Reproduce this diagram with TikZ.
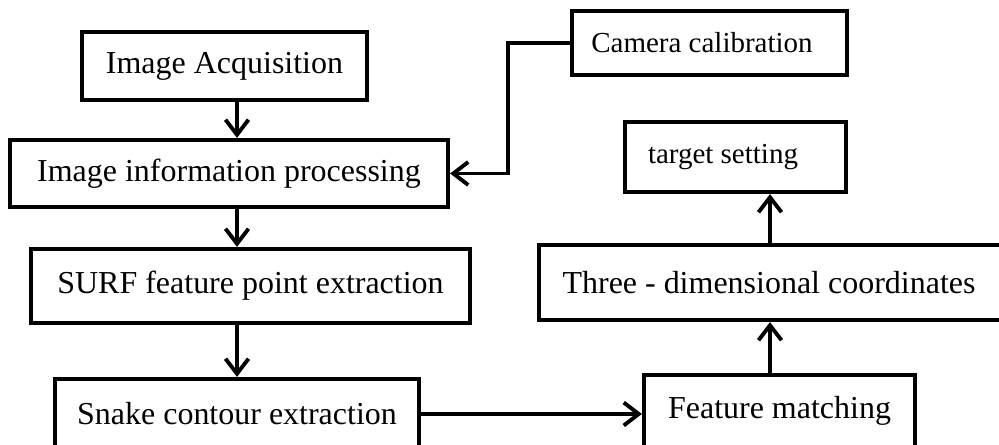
\documentclass[tikz,border=0pt]{standalone}
\usepackage{fontspec}
\setmainfont{Liberation Serif}
\usetikzlibrary{arrows.meta}

\begin{document}
\begin{tikzpicture}[x=0.02cm, y=-0.02cm,
		box/.style={draw, line width=2.4pt, inner sep=0pt, font=\fontsize{18.2}{21}\selectfont},
		small/.style={font=\fontsize{16.5}{19}\selectfont},
		flow/.style={line width=2.2pt, -{Straight Barb[length=0.3cm, width=0.46cm, line width=2.2pt]}}]
		
		\useasboundingbox (0,0) rectangle (999,445);
		\clip (0,0) rectangle (999,445);
		
		\node[box, minimum width=5.7cm, minimum height=1.36cm] (acq) at (224.5,66) {Image Acquisition};
		\node[box, minimum width=8.76cm, minimum height=1.34cm] (proc) at (229,173.5) {Image information processing};
		\node[box, minimum width=8.78cm, minimum height=1.48cm] (surf) at (250.5,286) {SURF feature point extraction};
		\node[box, minimum width=7.28cm, minimum height=1.4cm] (snake) at (237,414) {Snake contour extraction};
		\node[box, small, minimum width=5.5cm, minimum height=1.28cm] (cam) at (709.5,43) {\hspace*{-0.3cm}Camera calibration};
		\node[box, small, minimum width=4.42cm, minimum height=1.4cm] (target) at (735.5,157) {\hspace*{-0.5cm}target setting};
		\node[box, minimum width=12cm, minimum height=1.5cm] (three) at (839,282.5) {\hspace*{-2.8cm}Three - dimensional coordinates};
		\node[box, minimum width=5.42cm, minimum height=1.44cm] (feat) at (779.5,411) {Feature matching};
		\coordinate (bend) at (508,43);
		\coordinate (axis) at (770,0);
		
		\draw[flow] (acq.south -| snake) -- (proc.north -| snake);
		\draw[flow] (proc.south -| snake) -- (surf.north -| snake);
		\draw[flow] (surf.south -| snake) -- (snake.north);
		\draw[flow] (cam.west) -- (bend) |- (proc.east);
		\draw[flow] (snake.east) -- (snake.east -| feat.west);
		\draw[flow] (feat.north -| axis) -- (three.south -| axis);
		\draw[flow] (three.north -| axis) -- (target.south -| axis);
		
		\end{tikzpicture}
\end{document}
